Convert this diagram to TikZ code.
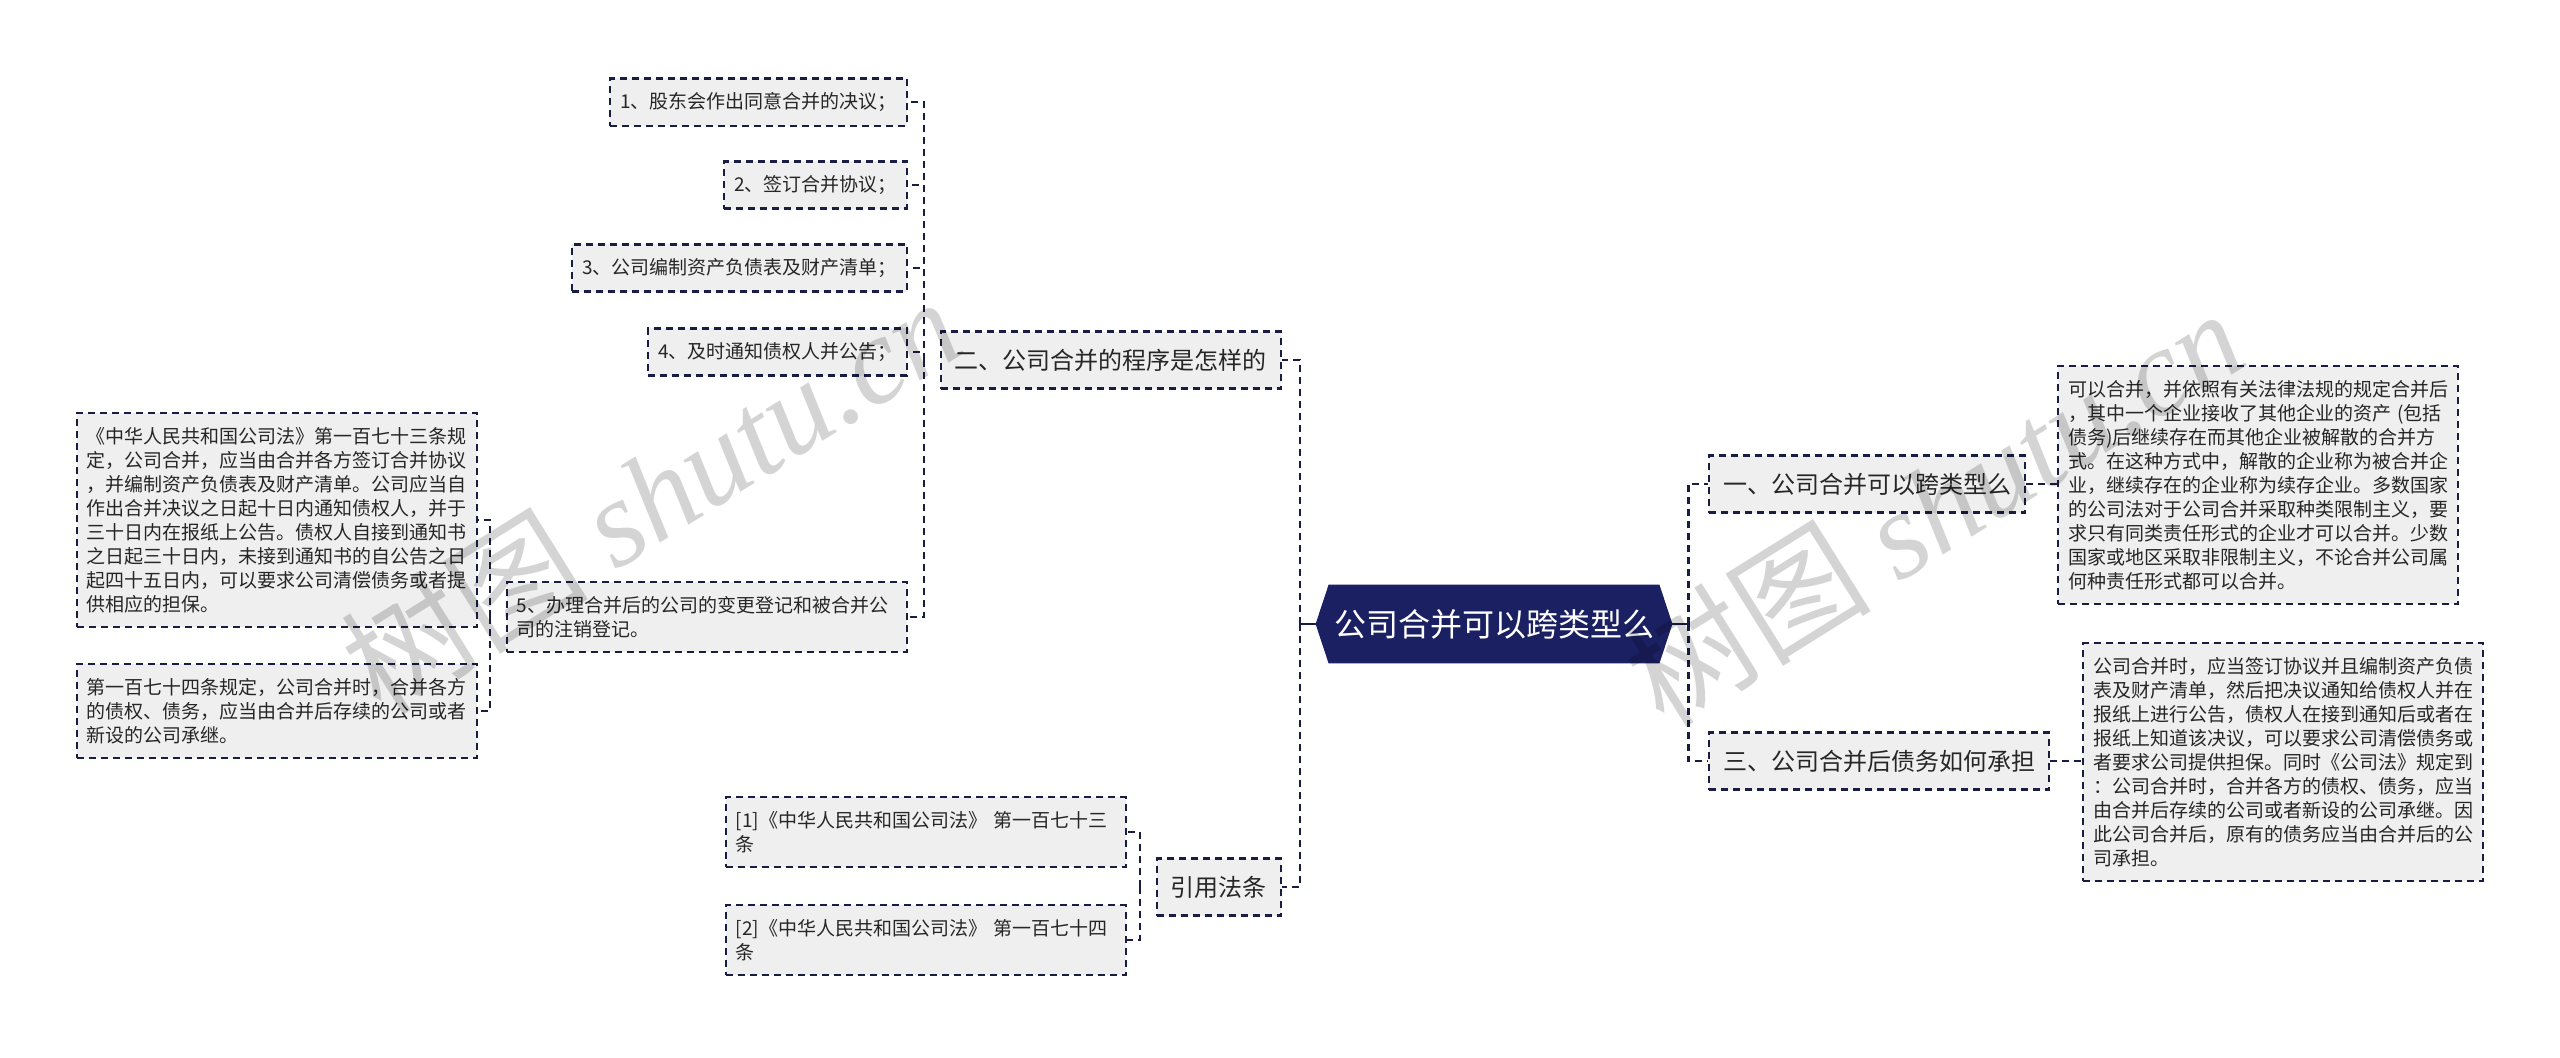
\documentclass[tikz,border=0pt]{standalone}
\usepackage{fontspec}
\setmainfont{Noto Sans CJK SC}
\newfontfamily\wmlatin{Liberation Serif}
\usetikzlibrary{backgrounds}
\definecolor{rootcol}{HTML}{1B2062}
\definecolor{linecol}{HTML}{1A1D42}
\definecolor{boxfill}{HTML}{EFEFEF}
\definecolor{txtcol}{HTML}{262626}

\begin{document}
\begin{tikzpicture}[x=0.5pt,y=-0.5pt,
  every node/.style={text=txtcol},
  box/.style={draw=linecol,line width=1.1pt,dash pattern=on 3.5pt off 2.5pt,fill=boxfill,inner xsep=5pt,inner ysep=7pt,align=left,font=\fontsize{9.5pt}{12pt}\selectfont},
  leaf/.style={box,text width=190pt},
  branch/.style={box,inner xsep=7pt,minimum height=28.5pt,font=\fontsize{12pt}{14pt}\selectfont},
  rootbox/.style={rectangle,inner sep=0pt,minimum width=178pt,minimum height=39pt,text=white,font=\fontsize{16pt}{18pt}\selectfont},
  link/.style={draw=linecol,line width=1.1pt,dash pattern=on 3.5pt off 2.5pt},
  stub/.style={draw=linecol,line width=1.1pt},
  wmark/.style={anchor=base,rotate=32,text=black,text opacity=0.17,font=\fontsize{62pt}{62pt}\selectfont}]
\useasboundingbox (0,0) rectangle (2560,1057);

\node[rootbox] (root) at (1494,624) {公司合并可以跨类型么};

\node[branch,anchor=east] (two) at (1282,360) {二、公司合并的程序是怎样的};
\node[branch,anchor=east] (cite) at (1282,887) {引用法条};
\node[branch,anchor=west] (one) at (1708,484) {一、公司合并可以跨类型么};
\node[branch,anchor=west] (three) at (1708,761) {三、公司合并后债务如何承担};

\node[box,anchor=east] (s1) at (908,102) {1、股东会作出同意合并的决议；};
\node[box,anchor=east] (s2) at (908,185) {2、签订合并协议；};
\node[box,anchor=east] (s3) at (908,268) {3、公司编制资产负债表及财产清单；};
\node[box,anchor=east] (s4) at (908,352) {4、及时通知债权人并公告；};
\node[leaf,anchor=east] (s5) at (908,617) {5、办理合并后的公司的变更登记和被合并公\\司的注销登记。};

\node[leaf,anchor=east] (law173) at (478,520) {《中华人民共和国公司法》第一百七十三条规\\定，公司合并，应当由合并各方签订合并协议\\，并编制资产负债表及财产清单。公司应当自\\作出合并决议之日起十日内通知债权人，并于\\三十日内在报纸上公告。债权人自接到通知书\\之日起三十日内，未接到通知书的自公告之日\\起四十五日内，可以要求公司清偿债务或者提\\供相应的担保。};
\node[leaf,anchor=east] (law174) at (478,711) {第一百七十四条规定，公司合并时，合并各方\\的债权、债务，应当由合并后存续的公司或者\\新设的公司承继。};

\node[leaf,anchor=east] (ref1) at (1127,832) {[1]《中华人民共和国公司法》~第一百七十三\\条};
\node[leaf,anchor=east] (ref2) at (1127,940) {[2]《中华人民共和国公司法》~第一百七十四\\条};

\node[leaf,anchor=west] (det1) at (2057,485) {可以合并，并依照有关法律法规的规定合并后\\，其中一个企业接收了其他企业的资产~(包括\\债务)后继续存在而其他企业被解散的合并方\\式。在这种方式中，解散的企业称为被合并企\\业，继续存在的企业称为续存企业。多数国家\\的公司法对于公司合并采取种类限制主义，要\\求只有同类责任形式的企业才可以合并。少数\\国家或地区采取非限制主义，不论合并公司属\\何种责任形式都可以合并。};
\node[leaf,anchor=west] (det3) at (2082,762) {公司合并时，应当签订协议并且编制资产负债\\表及财产清单，然后把决议通知给债权人并在\\报纸上进行公告，债权人在接到通知后或者在\\报纸上知道该决议，可以要求公司清偿债务或\\者要求公司提供担保。同时《公司法》规定到\\：公司合并时，合并各方的债权、债务，应当\\由合并后存续的公司或者新设的公司承继。因\\此公司合并后，原有的债务应当由合并后的公\\司承担。};

\draw[stub] (root.west) -- ++(-16,0);
\draw[stub] (root.east) -- ++(16,0);
\draw[link] ([xshift=-8pt]root.west) |- (two.east);
\draw[link] ([xshift=-8pt]root.west) |- (cite.east);
\draw[link] ([xshift=8pt]root.east) |- (one.west);
\draw[link] ([xshift=8pt]root.east) |- (three.west);
\draw[link] (one.east) -- (det1.west |- one.east);
\draw[link] (three.east) -- (det3.west |- three.east);

\draw[link] ([xshift=-8pt]two.west) |- (s1.east);
\draw[link] ([xshift=-8pt]two.west) |- (s2.east);
\draw[link] ([xshift=-8pt]two.west) |- (s3.east);
\draw[link] ([xshift=-8pt]two.west) |- (s4.east);
\draw[link] ([xshift=-8pt]two.west) |- (s5.east);
\draw[link] ([xshift=-8pt]s5.west) |- (law173.east);
\draw[link] ([xshift=-8pt]s5.west) |- (law174.east);
\draw[link] ([xshift=-8pt]cite.west) |- (ref1.east);
\draw[link] ([xshift=-8pt]cite.west) |- (ref2.east);

\node[wmark] (wm1) at (675,534) {树图 {\wmlatin\itshape shutu.cn}};
\node[wmark] (wm2) at (1958,546) {树图 {\wmlatin\itshape shutu.cn}};

\begin{scope}[on background layer]
\fill[white] (0,0) rectangle (2560,1057);
\fill[rootcol] (root.west) -- ([xshift=6.5pt]root.north west) -- ([xshift=-6.5pt]root.north east) -- (root.east) -- ([xshift=-6.5pt]root.south east) -- ([xshift=6.5pt]root.south west) -- cycle;
\end{scope}
\end{tikzpicture}
\end{document}
